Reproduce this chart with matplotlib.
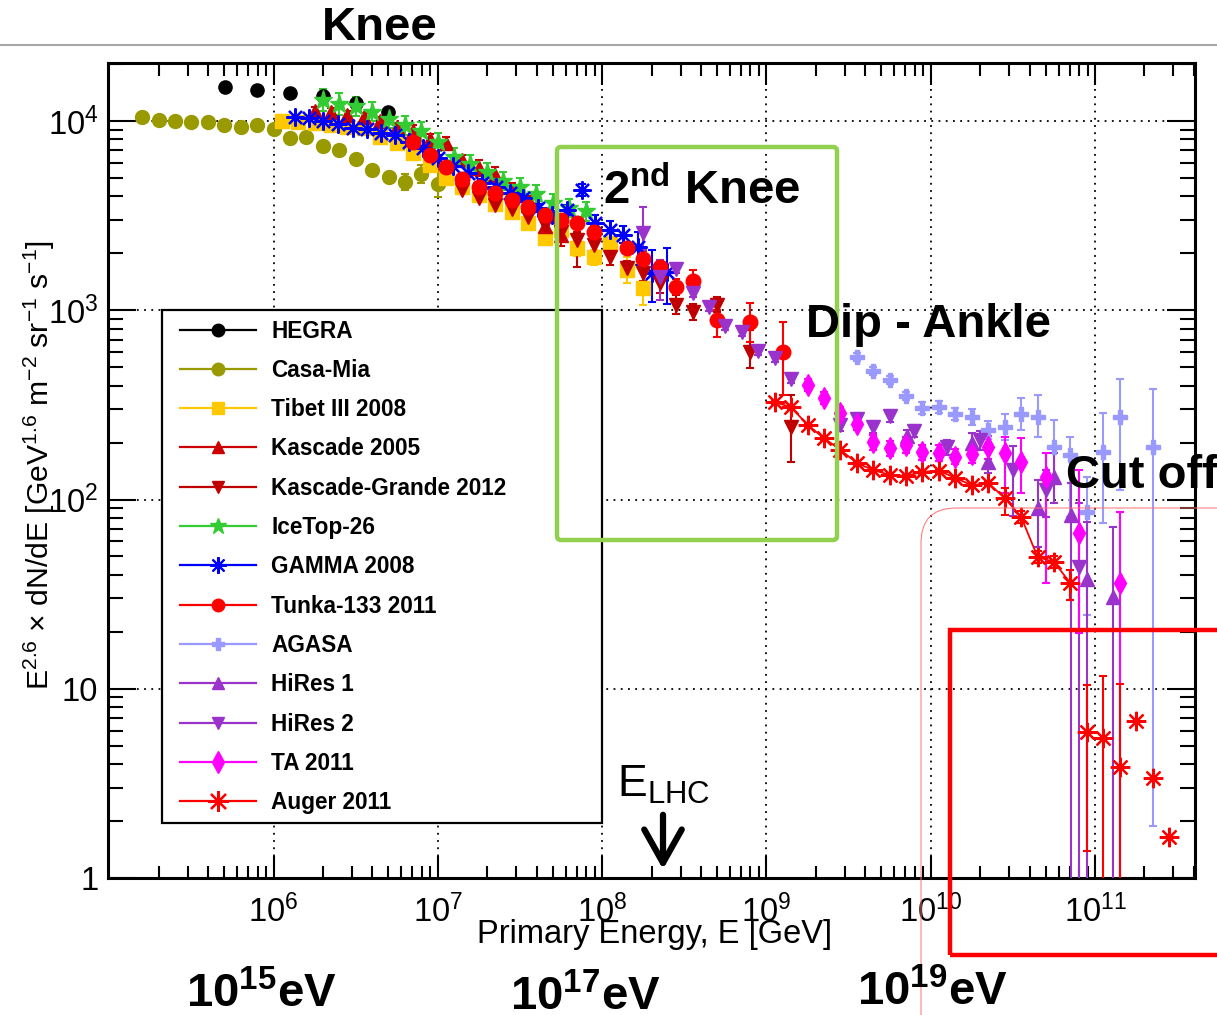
import numpy as np
import matplotlib
matplotlib.use("Agg")
import matplotlib.pyplot as plt
from matplotlib.lines import Line2D
from matplotlib.patches import FancyBboxPatch, FancyArrowPatch, Rectangle
from matplotlib.ticker import FuncFormatter, FixedLocator, LogLocator
from matplotlib.transforms import IdentityTransform

# ---------------------------------------------------------------------------
# Cosmic-ray all-particle spectrum, E^2.6 * dN/dE  (E in GeV)
# ---------------------------------------------------------------------------
hegra_E = [5.07e5, 7.94e5, 1.26e6, 2.0e6, 3.18e6, 4.98e6]
hegra_F = [1.51e4, 1.46e4, 1.41e4, 1.35e4, 1.24e4, 1.11e4]

casa_E = [1.58e5, 2.0e5, 2.51e5, 3.16e5, 3.98e5, 5.01e5, 6.31e5, 7.94e5, 1.0e6,
          1.26e6, 1.58e6, 2.0e6, 2.51e6, 3.16e6, 3.98e6, 5.01e6, 6.31e6, 7.94e6, 1.0e7]
casa_F = [1.05e4, 1.01e4, 1.0e4, 9.9e3, 9.9e3, 9.5e3, 9.3e3, 9.5e3, 9.1e3,
          8.1e3, 8.2e3, 7.4e3, 7.0e3, 6.3e3, 5.5e3, 5.06e3, 4.76e3, 5.25e3, 4.65e3]
casa_err = [0, 0, 0, 0, 0, 0, 0, 0, 0, 0, 0, 0, 0, 0, 0.02, 0.02, 0.04, 0.05, 0.07]

tibet_E = [1.12e6, 1.41e6, 1.78e6, 2.24e6, 2.82e6, 3.55e6, 4.47e6, 5.62e6, 7.08e6, 8.91e6,
           1.12e7, 1.41e7, 1.78e7, 2.24e7, 2.82e7, 3.55e7, 4.47e7, 5.62e7, 7.08e7, 8.91e7,
           1.12e8, 1.41e8, 1.78e8]
tibet_F = [1.0e4, 9.9e3, 9.75e3, 9.5e3, 9.3e3, 9.2e3, 8.2e3, 7.65e3, 6.8e3, 5.85e3,
           5.0e3, 4.48e3, 4.06e3, 3.65e3, 3.3e3, 2.9e3, 2.41e3, 2.65e3, 2.13e3, 1.91e3,
           2.26e3, 1.63e3, 1.31e3]
tibet_err = [0.01, 0.01, 0.01, 0.01, 0.01, 0.01, 0.01, 0.01, 0.01, 0.01, 0.01, 0.02,
             0.02, 0.02, 0.02, 0.02, 0.03, 0.03, 0.04, 0.04, 0.05, 0.07, 0.09]

kas_E = [1.78e6, 2.24e6, 2.82e6, 3.55e6, 4.47e6, 5.62e6, 7.08e6, 8.91e6, 1.12e7, 1.41e7,
         1.78e7, 2.24e7, 2.82e7, 3.55e7, 4.47e7, 5.62e7]
kas_F = [1.13e4, 1.12e4, 1.08e4, 1.05e4, 1.0e4, 9.3e3, 8.85e3, 8.0e3, 7.65e3, 6.2e3,
         5.65e3, 5.2e3, 4.3e3, 3.6e3, 2.8e3, 2.5e3]
kas_err = [0.02, 0.02, 0.02, 0.02, 0.02, 0.02, 0.03, 0.03, 0.03, 0.03, 0.04, 0.04,
           0.04, 0.05, 0.05, 0.06]

kg_E = [1.41e7, 1.78e7, 2.24e7, 2.82e7, 3.55e7, 4.47e7, 5.62e7, 7.08e7, 8.91e7, 1.12e8,
        1.41e8, 1.78e8, 2.24e8, 2.82e8, 3.55e8, 5.01e8, 7.94e8, 1.41e9]
kg_F = [4.32e3, 3.92e3, 3.6e3, 3.43e3, 3.11e3, 2.82e3, 2.6e3, 2.35e3, 2.21e3, 1.91e3,
        1.67e3, 1.57e3, 1.39e3, 1.07e3, 980, 1.07e3, 600, 242]
kg_elo = [0.02, 0.02, 0.02, 0.02, 0.02, 0.03, 0.03, 0.14, 0.03, 0.04, 0.04, 0.04,
          0.05, 0.05, 0.04, 0.04, 0.085, 0.185]
kg_ehi = [0.02, 0.02, 0.02, 0.02, 0.02, 0.03, 0.03, 0.04, 0.03, 0.04, 0.04, 0.04,
          0.05, 0.05, 0.04, 0.04, 0.116, 0.169]

ice_E = [2.0e6, 2.51e6, 3.16e6, 3.98e6, 5.01e6, 6.31e6, 7.94e6, 1.0e7, 1.26e7, 1.58e7,
         2.0e7, 2.51e7, 3.16e7, 3.98e7, 5.01e7, 6.31e7, 7.94e7]
ice_F = [1.29e4, 1.23e4, 1.2e4, 1.12e4, 1.03e4, 9.5e3, 8.85e3, 7.75e3, 6.45e3, 5.93e3,
         5.38e3, 4.82e3, 4.48e3, 4.11e3, 3.69e3, 3.47e3, 3.34e3]
ice_err = [0.06, 0.06, 0.05, 0.05, 0.05, 0.05, 0.05, 0.05, 0.05, 0.05, 0.05, 0.05,
           0.05, 0.05, 0.05, 0.05, 0.05]

gamma_E = [1.35e6, 1.64e6, 2.0e6, 2.47e6, 3.05e6, 3.7e6, 4.5e6, 5.5e6, 6.7e6, 8.1e6,
           1.0e7, 1.24e7, 1.53e7, 1.86e7, 2.26e7, 2.75e7, 3.3e7, 4.07e7, 4.95e7, 6.1e7,
           7.5e7, 9.1e7, 1.12e8, 1.34e8, 1.65e8, 2.0e8, 2.48e8]
gamma_F = [1.05e4, 1.04e4, 1.0e4, 9.65e3, 9.2e3, 9.1e3, 8.65e3, 8.45e3, 7.75e3, 7.2e3,
           6.37e3, 5.78e3, 5.3e3, 4.7e3, 4.48e3, 4.17e3, 3.92e3, 3.47e3, 3.18e3, 3.38e3,
           4.32e3, 2.89e3, 2.65e3, 2.5e3, 2.16e3, 1.57e3, 1.59e3]
gamma_elo = [0.01, 0.01, 0.01, 0.01, 0.01, 0.01, 0.01, 0.01, 0.01, 0.01, 0.015, 0.015,
             0.02, 0.02, 0.02, 0.02, 0.02, 0.02, 0.02, 0.025, 0.03, 0.04, 0.05, 0.045,
             0.095, 0.15, 0.17]
gamma_ehi = [0.01, 0.01, 0.01, 0.01, 0.01, 0.01, 0.01, 0.01, 0.01, 0.01, 0.015, 0.015,
             0.02, 0.02, 0.02, 0.02, 0.02, 0.02, 0.02, 0.025, 0.03, 0.04, 0.05, 0.045,
             0.08, 0.12, 0.13]

tunka_E = [7.08e6, 8.91e6, 1.12e7, 1.41e7, 1.78e7, 2.24e7, 2.82e7, 3.55e7, 4.47e7, 5.62e7,
           7.08e7, 8.91e7, 1.41e8, 1.78e8, 2.24e8, 2.82e8, 3.55e8, 5.01e8, 7.94e8, 1.26e9]
tunka_F = [7.75e3, 6.6e3, 5.7e3, 4.95e3, 4.48e3, 4.17e3, 3.83e3, 3.52e3, 3.18e3, 3.0e3,
           2.89e3, 2.6e3, 2.13e3, 1.87e3, 1.69e3, 1.33e3, 1.43e3, 890, 870, 600]
tunka_elo = [0.02, 0.02, 0.02, 0.02, 0.02, 0.02, 0.02, 0.02, 0.02, 0.03, 0.03, 0.03,
             0.03, 0.04, 0.04, 0.04, 0.06, 0.09, 0.106, 0.227]
tunka_ehi = [0.02, 0.02, 0.02, 0.02, 0.02, 0.02, 0.02, 0.02, 0.02, 0.03, 0.03, 0.03,
             0.03, 0.04, 0.04, 0.04, 0.06, 0.053, 0.10, 0.159]

agasa_E = [3.55e9, 4.47e9, 5.62e9, 7.08e9, 8.91e9, 1.12e10, 1.41e10, 1.78e10, 2.24e10,
           2.82e10, 3.55e10, 4.47e10, 5.62e10, 7.08e10, 8.91e10, 1.12e11, 1.41e11, 2.24e11]
agasa_F = [566, 478, 428, 352, 305, 308, 283, 273, 233, 242, 283, 273, 189, 172, 86,
           178, 273, 189]
agasa_elo = [0.02, 0.02, 0.02, 0.02, 0.03, 0.03, 0.03, 0.04, 0.05, 0.069, 0.085, 0.106,
             0.175, 0.327, 0.545, 0.375, 0.386, 2.0]
agasa_ehi = [0.02, 0.02, 0.02, 0.02, 0.03, 0.03, 0.03, 0.04, 0.05, 0.068, 0.085, 0.116,
             0.143, 0.095, 0.185, 0.206, 0.201, 0.306]

hires1_E = [7.16e9, 1.78e10, 2.23e10, 4.5e10, 5.62e10, 7.14e10, 8.95e10, 1.29e11]
hires1_F = [217, 199, 158, 90, 131, 83, 38, 30.6]
hires1_elo = [0.03, 0.05, 0.06, 0.206, 0.137, 2.0, 2.0, 2.0]
hires1_ehi = [0.03, 0.05, 0.06, 0.148, 0.127, 0.169, 0.3, 0.37]

hires2_E = [1.78e8, 2.24e8, 2.82e8, 3.55e8, 4.47e8, 5.62e8, 7.08e8, 8.91e8, 1.12e9, 1.41e9,
            2.82e9, 3.55e9, 4.47e9, 5.62e9, 7.94e9, 1.26e10, 2.0e10, 3.16e10, 5.01e10, 7.94e10]
hires2_F = [2560, 1500, 1650, 1233, 1040, 826, 767, 610, 560, 434, 248, 266, 242, 276,
            230, 189, 206, 143, 112, 44]
hires2_elo = [0.09, 0.12, 0.02, 0.02, 0.02, 0.02, 0.02, 0.02, 0.02, 0.02, 0.03, 0.03,
              0.03, 0.03, 0.03, 0.04, 0.05, 0.24, 0.143, 2.0]
hires2_ehi = [0.137, 0.09, 0.02, 0.02, 0.02, 0.02, 0.02, 0.02, 0.02, 0.02, 0.03, 0.03,
              0.03, 0.03, 0.03, 0.04, 0.05, 0.13, 0.106, 0.34]

ta_E = [1.78e9, 2.24e9, 2.82e9, 3.55e9, 4.47e9, 5.62e9, 7.08e9, 8.91e9, 1.12e10, 1.41e10,
        1.78e10, 2.24e10, 2.82e10, 3.55e10, 5.01e10, 7.94e10, 1.41e11]
ta_F = [403, 344, 286, 251, 201, 187, 194, 178, 176, 168, 174, 189, 176, 158, 131, 66.5, 36.2]
ta_elo = [0.03, 0.03, 0.03, 0.03, 0.04, 0.04, 0.04, 0.04, 0.04, 0.04, 0.05, 0.06,
          0.21, 0.164, 0.56, 0.53, 2.0]
ta_ehi = [0.03, 0.03, 0.03, 0.03, 0.04, 0.04, 0.04, 0.04, 0.04, 0.04, 0.05, 0.06,
          0.085, 0.127, 0.127, 0.333, 0.375]

auger_E = [1.12e9, 1.41e9, 1.78e9, 2.24e9, 2.82e9, 3.55e9, 4.47e9, 5.62e9, 7.08e9, 8.91e9,
           1.12e10, 1.41e10, 1.78e10, 2.24e10, 2.82e10, 3.55e10, 4.47e10, 5.62e10, 7.08e10,
           8.91e10, 1.12e11, 1.41e11, 1.78e11, 2.24e11, 2.82e11]
auger_F = [327, 308, 248, 211, 183, 156, 143, 135, 133, 140, 142, 130, 119, 122, 102,
           81, 49.7, 46.8, 36.2, 5.9, 5.5, 3.86, 6.76, 3.38, 1.65]
auger_elo = [0.01, 0.01, 0.01, 0.01, 0.01, 0.01, 0.01, 0.01, 0.01, 0.01, 0.01, 0.01,
             0.01, 0.01, 0.09, 0.03, 0.03, 0.03, 0.09, 0.629, 2.0, 2.0, 0, 0, 0]
auger_ehi = [0.01, 0.01, 0.01, 0.01, 0.01, 0.01, 0.01, 0.01, 0.01, 0.01, 0.01, 0.01,
             0.01, 0.01, 0.053, 0.03, 0.03, 0.03, 0.069, 0.248, 0.328, 0.439, 0, 0, 0]
auger_joined = 19          # points of the Auger spectrum joined by a line

x_ticks = [1e6, 1e7, 1e8, 1e9, 1e10, 1e11]
y_ticks = [1, 10, 100, 1000, 10000]

# ---------------------------------------------------------------------------
plt.rcParams.update({
    "font.family": ["Liberation Sans", "DejaVu Sans"],
    "mathtext.fontset": "custom",
    "mathtext.rm": "Liberation Sans",
    "mathtext.it": "Liberation Sans:italic",
    "mathtext.bf": "Liberation Sans:bold",
    "mathtext.sf": "Liberation Sans",
})

W, H = 1217, 1015
AX_L, AX_R, AX_T, AX_B = 108, 1195, 63, 878
fig = plt.figure(figsize=(W / 100, H / 100), dpi=100)
ax = fig.add_axes([AX_L / W, 1 - AX_B / H, (AX_R - AX_L) / W, (AX_B - AX_T) / H])
ax.set_xscale("log")
ax.set_yscale("log")


def series(E, F, elo, ehi, color, marker, ms, mew=1.0):
    E = np.asarray(E, float)
    F = np.asarray(F, float)
    lo = F - F * 10.0 ** (-np.asarray(elo, float))
    hi = F * 10.0 ** np.asarray(ehi, float) - F
    ax.errorbar(E, F, yerr=[lo, hi], fmt="none", ecolor=color,
                elinewidth=1.5, capsize=3, capthick=1.5, zorder=3)
    ax.plot(E, F, ls="none", marker=marker, ms=ms, color=color, mec=color,
            mfc=color, mew=mew, zorder=4)


c_hegra, c_casa, c_tibet = "black", "#999900", "#ffc800"
c_kas, c_kg, c_ice, c_gamma = "#cc0000", "#c00000", "#33cc33", "#0000ff"
c_tunka, c_agasa, c_hires, c_ta, c_auger = "#ff0000", "#9999ff", "#9933cc", "#ff00ff", "#ff0000"
star8 = (8, 2, 0)

ax.plot(hegra_E, hegra_F, ls="none", marker="o", ms=9.5, color=c_hegra, zorder=4)
series(casa_E, casa_F, casa_err, casa_err, c_casa, "o", 10)
series(tibet_E, tibet_F, tibet_err, tibet_err, c_tibet, "s", 9.5)
series(kas_E, kas_F, kas_err, kas_err, c_kas, "^", 10.5)
series(ice_E, ice_F, ice_err, ice_err, c_ice, "*", 14)
series(gamma_E, gamma_F, gamma_elo, gamma_ehi, c_gamma, star8, 13, mew=1.6)
series(kg_E, kg_F, kg_elo, kg_ehi, c_kg, "v", 10.5)
series(tunka_E, tunka_F, tunka_elo, tunka_ehi, c_tunka, "o", 10.5)
series(agasa_E, agasa_F, agasa_elo, agasa_ehi, c_agasa, "P", 10)
series(hires2_E, hires2_F, hires2_elo, hires2_ehi, c_hires, "v", 10.5)
series(hires1_E, hires1_F, hires1_elo, hires1_ehi, c_hires, "^", 10.5)
series(ta_E, ta_F, ta_elo, ta_ehi, c_ta, "d", 11)
ax.plot(auger_E[:auger_joined], auger_F[:auger_joined], color=c_auger, lw=1.3, zorder=4)
series(auger_E, auger_F, auger_elo, auger_ehi, c_auger, star8, 14, mew=1.6)

# axes, ticks and grid
ax.set_xlim(9.83e4, 4.06e11)
ax.set_ylim(1, 2.026e4)
ax.xaxis.set_major_locator(FixedLocator(x_ticks))
ax.xaxis.set_minor_locator(LogLocator(base=10, subs=np.arange(2, 10), numticks=30))
ax.yaxis.set_major_locator(FixedLocator(y_ticks))
ax.yaxis.set_minor_locator(LogLocator(base=10, subs=np.arange(2, 10), numticks=30))
ax.xaxis.set_major_formatter(FuncFormatter(lambda v, p: r"$\mathdefault{10^{%d}}$" % round(np.log10(v))))


def ylabel_fmt(v, p):
    n = int(round(np.log10(v)))
    if n == 0:
        return "1"
    if n == 1:
        return "10"
    return r"$\mathdefault{10^{%d}}$" % n


ax.yaxis.set_major_formatter(FuncFormatter(ylabel_fmt))
ax.tick_params(which="both", direction="in", top=True, right=True, color="black")
ax.tick_params(axis="x", which="major", length=16, width=1.5, labelsize=23.5, pad=12)
ax.tick_params(axis="x", which="minor", length=9, width=1.5)
ax.tick_params(axis="y", which="major", length=20, width=1.5, labelsize=23.5, pad=7)
ax.tick_params(axis="y", which="minor", length=11, width=1.5)
for s in ax.spines.values():
    s.set_linewidth(2.2)
ax.grid(True, which="major", color="black", ls=(0, (1, 3)), lw=1.3)
ax.set_axisbelow(True)

# legend: frame drawn as its own box, entries placed inside it
AXW, AXH = AX_R - AX_L, AX_B - AX_T
LG_L, LG_R, LG_T, LG_B = 162, 602, 310, 823
ax.add_patch(Rectangle(((LG_L - AX_L) / AXW, (AX_B - LG_B) / AXH),
                       (LG_R - LG_L) / AXW, (LG_B - LG_T) / AXH, transform=ax.transAxes,
                       facecolor="white", edgecolor="black", lw=1.6, zorder=5))

labels = ["HEGRA", "Casa-Mia", "Tibet III 2008", "Kascade 2005", "Kascade-Grande 2012",
          "IceTop-26", "GAMMA 2008", "Tunka-133 2011", "AGASA", "HiRes 1", "HiRes 2",
          "TA 2011", "Auger 2011"]
styles = [(c_hegra, "o", 9, 1), (c_casa, "o", 9, 1), (c_tibet, "s", 8.5, 1), (c_kas, "^", 9, 1),
          (c_kg, "v", 9, 1), (c_ice, "*", 12, 1), (c_gamma, star8, 12, 1.5), (c_tunka, "o", 9, 1),
          (c_agasa, "P", 9, 1), (c_hires, "^", 9, 1), (c_hires, "v", 9, 1), (c_ta, "d", 11, 1),
          (c_auger, star8, 15, 1.6)]
handles = [Line2D([], [], color=c, marker=m, ms=s, mew=w, mfc=c, mec=c, lw=1.6)
           for c, m, s, w in styles]
leg = ax.legend(handles, labels, loc="upper left",
                bbox_to_anchor=((LG_L + 8 - AX_L) / AXW, (AX_B - LG_T) / AXH),
                borderaxespad=0, handlelength=3.4, handletextpad=0.65,
                labelspacing=0.72, borderpad=0.42, frameon=False,
                prop={"family": "Liberation Sans", "weight": "bold", "size": 16.3})
leg.set_zorder(6)

# labels and annotations (figure pixel positions)
def fx(x):
    return x / W


def fy(y):
    return 1 - y / H


fig.text(fx(832), fy(934), "Primary Energy, E [GeV]", fontsize=23.5, ha="right", va="center")
fig.text(fx(39), fy(240), r"E$^{2.6}$ × dN/dE [GeV$^{1.6}$ m$^{-2}$ sr$^{-1}$ s$^{-1}$]",
         fontsize=21.7, rotation=90, ha="center", va="top")

big = dict(fontsize=34, fontweight="bold", va="baseline", ha="left", zorder=12)
fig.text(fx(322), fy(40), "Knee", **big)
fig.text(fx(603), fy(204), r"2$^{\mathbf{nd}}$ Knee", **big)
fig.text(fx(806), fy(337), "Dip - Ankle", **big)
fig.text(fx(1066), fy(488), "Cut off", **big)
fig.text(fx(186), fy(1007), r"10$^{\mathbf{15}}$eV", **big)
fig.text(fx(510), fy(1010), r"10$^{\mathbf{17}}$eV", **big)
fig.text(fx(857), fy(1005), r"10$^{\mathbf{19}}$eV", **big)
fig.text(fx(617), fy(797), r"E$_{\mathrm{LHC}}$", fontsize=32, ha="left", va="baseline")

fig.add_artist(FancyArrowPatch((663, H - 812), (663, H - 872), transform=IdentityTransform(),
                               arrowstyle="->,head_length=0.8,head_width=0.45",
                               mutation_scale=30, lw=4.5, color="black"))

# separator line across the top
fig.add_artist(Line2D([0, 1], [fy(45), fy(45)], transform=fig.transFigure,
                      color="#a6a6a6", lw=1.5))

# highlight boxes
fig.add_artist(FancyBboxPatch((557, H - 540), 280, 393, boxstyle="round,pad=0,rounding_size=4",
                              transform=IdentityTransform(), fill=False, ec="#92d050",
                              lw=3.2, zorder=11))
fig.add_artist(FancyBboxPatch((950, H - 955), 400, 325, boxstyle="square,pad=0",
                              transform=IdentityTransform(), fill=False, ec="#ff0000",
                              lw=3.2, zorder=11))
fig.add_artist(FancyBboxPatch((921, -100), 500, H - 508 + 100,
                              boxstyle="round,pad=0,rounding_size=35",
                              transform=IdentityTransform(), fill=False, ec="#ff7070",
                              lw=0.7, zorder=11))

fig.savefig("out.png", dpi=100)
